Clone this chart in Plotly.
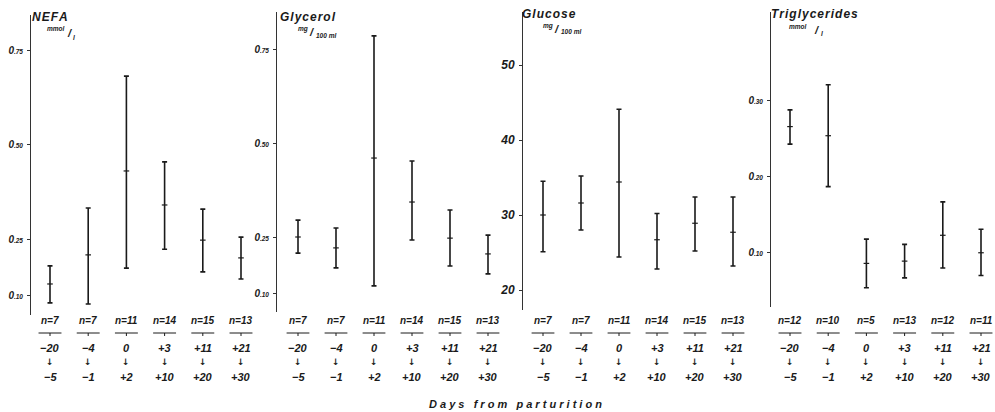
import plotly.graph_objects as go

W, H = 995, 412

# ---------------- data ----------------
days_start = ["−20", "−4", "0", "+3", "+11", "+21"]
days_end = ["−5", "−1", "+2", "+10", "+20", "+30"]

nefa_n = [7, 7, 11, 14, 15, 13]
nefa_mean = [0.131, 0.208, 0.430, 0.340, 0.247, 0.200]
nefa_low = [0.081, 0.078, 0.173, 0.223, 0.163, 0.144]
nefa_high = [0.179, 0.332, 0.681, 0.454, 0.329, 0.255]

gly_n = [7, 7, 11, 14, 15, 13]
gly_mean = [0.250, 0.221, 0.460, 0.343, 0.247, 0.205]
gly_low = [0.207, 0.168, 0.120, 0.242, 0.173, 0.152]
gly_high = [0.295, 0.274, 0.785, 0.452, 0.322, 0.255]

glu_n = [7, 7, 11, 14, 15, 13]
glu_mean = [30.0, 31.6, 34.4, 26.7, 28.9, 27.7]
glu_low = [25.1, 28.0, 24.4, 22.8, 25.2, 23.2]
glu_high = [34.5, 35.2, 44.1, 30.2, 32.4, 32.4]

tg_n = [12, 10, 5, 13, 12, 11]
tg_mean = [0.265, 0.253, 0.085, 0.088, 0.122, 0.099]
tg_low = [0.242, 0.186, 0.053, 0.066, 0.079, 0.069]
tg_high = [0.287, 0.320, 0.117, 0.110, 0.166, 0.130]

nefa_ticks = [0.10, 0.25, 0.50, 0.75]
nefa_ticktext = ["0.10", "0.25", "0.50", "0.75"]
gly_ticks = [0.10, 0.25, 0.50, 0.75]
gly_ticktext = ["0.10", "0.25", "0.50", "0.75"]
glu_ticks = [20, 30, 40, 50]
glu_ticktext = ["20", "30", "40", "50"]
tg_ticks = [0.10, 0.20, 0.30]
tg_ticktext = ["0.10", "0.20", "0.30"]

panels = [
    dict(name="NEFA", unit=("mmol", "l"), n=nefa_n, mean=nefa_mean, low=nefa_low, high=nefa_high,
         ticks=nefa_ticks, ticktext=nefa_ticktext, small=True,
         ax=31, b0=50, sp=38.2, ytop=15, ybot=315, cal=(239, 0.25, 50, 0.75),
         tx=31, ty=17, u1=(46, 29), sl=(66, 33), u2=(72, 38)),
    dict(name="Glycerol", unit=("mg", "100 ml"), n=gly_n, mean=gly_mean, low=gly_low, high=gly_high,
         ticks=gly_ticks, ticktext=gly_ticktext, small=True,
         ax=277, b0=298, sp=38.0, ytop=12, ybot=312, cal=(237, 0.25, 49, 0.75),
         tx=279, ty=17, u1=(297, 29), sl=(308, 32), u2=(315, 36)),
    dict(name="Glucose", unit=("mg", "100 ml"), n=glu_n, mean=glu_mean, low=glu_low, high=glu_high,
         ticks=glu_ticks, ticktext=glu_ticktext, small=False,
         ax=523, b0=543, sp=38.0, ytop=12, ybot=310, cal=(290, 20, 65, 50),
         tx=521, ty=14, u1=(542, 26), sl=(553, 29), u2=(560, 32)),
    dict(name="Triglycerides", unit=("mmol", "l"), n=tg_n, mean=tg_mean, low=tg_low, high=tg_high,
         ticks=tg_ticks, ticktext=tg_ticktext, small=True,
         ax=771, b0=790, sp=38.2, ytop=12, ybot=307, cal=(252, 0.10, 100, 0.30),
         tx=770, ty=14, u1=(788, 27), sl=(813, 30), u2=(820, 34)),
]

FONT = "Liberation Sans"
INK = "#1a1a1a"
HS = "\u200a"

fig = go.Figure()
layout = dict(
    width=W, height=H, margin=dict(l=0, r=0, t=0, b=0),
    paper_bgcolor="white", plot_bgcolor="white", showlegend=False,
    font=dict(family=FONT, color=INK),
)
annotations = []
shapes = []


def py(p):
    return 1 - p / H


def note(x, y, text, size, xanchor="left", family=FONT, pad=1):
    annotations.append(dict(xref="paper", yref="paper", x=x / W, y=py(y), xanchor=xanchor, yanchor="middle",
                            text=text, showarrow=False, borderpad=pad,
                            font=dict(size=size, family=family, color=INK)))


for i, p in enumerate(panels):
    k = "" if i == 0 else str(i + 1)
    xname, yname = "x" + k, "y" + k
    idx = list(range(len(p["mean"])))
    fig.add_trace(go.Scatter(
        x=idx, y=p["mean"], mode="markers", xaxis=xname, yaxis=yname,
        marker=dict(symbol="line-ew", size=4, line=dict(width=1.2, color=INK), color=INK),
        error_y=dict(type="data", symmetric=False,
                     array=[h - m for h, m in zip(p["high"], p["mean"])],
                     arrayminus=[m - l for m, l in zip(p["mean"], p["low"])],
                     color=INK, thickness=1.6, width=2.5),
        hoverinfo="skip",
    ))
    x0 = -(p["b0"] - p["ax"]) / p["sp"]
    right_px = min(p["ax"] + p["sp"] * (5.5 - x0), W)
    x1 = x0 + (right_px - p["ax"]) / p["sp"]
    layout["xaxis" + k] = dict(domain=[p["ax"] / W, right_px / W], range=[x0, x1], visible=False,
                               anchor=yname)
    p1, v1, p2, v2 = p["cal"]
    slope = (v2 - v1) / (p2 - p1)
    ylo = v1 + (p["ybot"] - p1) * slope
    yhi = v1 + (p["ytop"] - p1) * slope
    if p["small"]:
        tt = ["<b><i>0<span style='font-size:6.5px'>.%s</span></i></b>" % t.split(".")[1] for t in p["ticktext"]]
        tf = dict(size=10, family=FONT, color=INK)
    else:
        tt = ["<i><b>%s</b></i>" % t for t in p["ticktext"]]
        tf = dict(size=12, family=FONT, color=INK)
    layout["yaxis" + k] = dict(domain=[py(p["ybot"]), py(p["ytop"])], range=[ylo, yhi],
                               showline=True, linecolor="#333", linewidth=1, showgrid=False,
                               zeroline=False, ticks="outside", ticklen=3, tickcolor="#333",
                               tickvals=p["ticks"], ticktext=tt, tickfont=tf, anchor=xname,
                               ticklabelstandoff=2)
    # title and unit (upper word, slash, lower word)
    note(p["tx"], p["ty"], "<b><i>%s</i></b>" % HS.join(p["name"]), 12, pad=0)
    note(p["u1"][0], p["u1"][1], "<b><i>%s</i></b>" % p["unit"][0], 6.5, pad=0)
    note(p["sl"][0], p["sl"][1], "<b><i>/</i></b>", 11, pad=0)
    note(p["u2"][0], p["u2"][1], "<b><i>%s</i></b>" % p["unit"][1], 6.5, pad=0)
    # bottom labels
    for j in idx:
        common = dict(xref=xname, yref="paper", x=j, xanchor="center", yanchor="middle", showarrow=False)
        annotations.append(dict(common, y=py(320), text="<b><i>n=%d</i></b>" % p["n"][j],
                                font=dict(size=10, family=FONT, color=INK)))
        annotations.append(dict(common, y=py(348), text="<b><i>%s</i></b>" % days_start[j],
                                font=dict(size=11, family=FONT, color=INK)))
        annotations.append(dict(common, y=py(362), text="<b>↓</b>",
                                font=dict(size=9, family="DejaVu Sans", color=INK)))
        annotations.append(dict(common, y=py(377), text="<b><i>%s</i></b>" % days_end[j],
                                font=dict(size=11, family=FONT, color=INK)))
        shapes.append(dict(type="line", xref=xname, yref="paper", x0=j - 0.3, x1=j + 0.3,
                           y0=py(333), y1=py(333), line=dict(color=INK, width=1)))
        shapes.append(dict(type="line", xref=xname, yref="paper", x0=j, x1=j,
                           y0=py(333), y1=py(336), line=dict(color=INK, width=1)))

note(515, 404, "<b><i>D a y s&nbsp;&nbsp;&nbsp;f r o m&nbsp;&nbsp;&nbsp;p a r t u r i t i o n</i></b>", 11,
     xanchor="center")

layout["annotations"] = annotations
layout["shapes"] = shapes
fig.update_layout(**layout)
fig.write_html("out.html", config={"displayModeBar": False},
               post_script="document.body.style.margin='0px';document.body.style.overflow='hidden';")
